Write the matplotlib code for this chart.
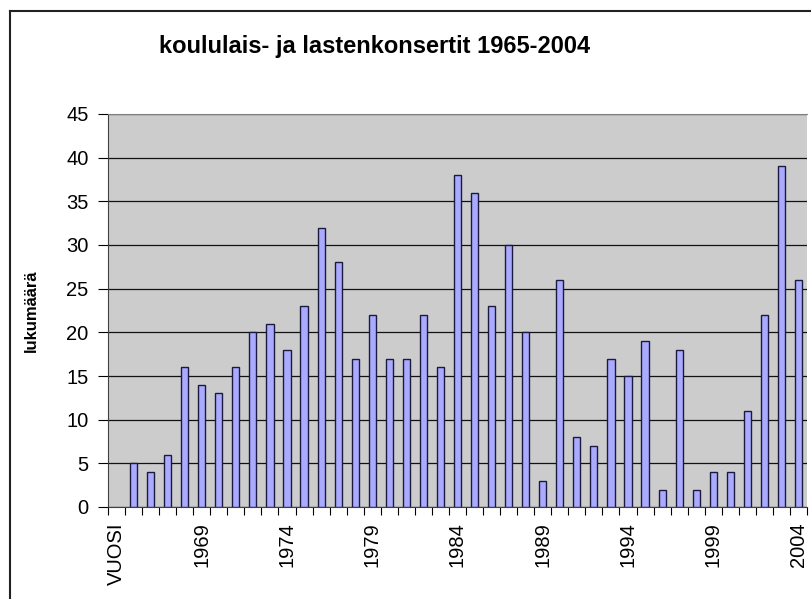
import matplotlib.pyplot as plt
from matplotlib.lines import Line2D

# data
categories = ['VUOSI'] + [str(y) for y in range(1965, 2005)]
counts = [None, 5, 4, 6, 16, 14, 13, 16, 20, 21, 18,
          23, 32, 28, 17, 22, 17, 17, 22, 16, 38,
          36, 23, 30, 20, 3, 26, 8, 7, 17, 15,
          19, 2, 18, 2, 4, 4, 11, 22, 39, 26]
yticks = [0, 5, 10, 15, 20, 25, 30, 35, 40, 45]

plt.rcParams['font.family'] = ['Liberation Sans', 'DejaVu Sans']

fig = plt.figure(figsize=(8.11, 5.99), dpi=100)
ax = fig.add_axes([108/811, 1 - 507/599, (807 - 108)/811, (507 - 114)/599])

xs = [i for i, v in enumerate(counts) if v is not None]
vals = [v for v in counts if v is not None]
ax.bar(xs, vals, width=0.42, color='#aaaaff', edgecolor='#1a1a40', linewidth=1.0, zorder=3)

ax.set_facecolor('#cccccc')
ax.set_xlim(-0.5, len(categories) - 0.5)
ax.set_ylim(0, 45)
ax.set_yticks(yticks)
ax.yaxis.grid(True, color='#111111', linewidth=0.9, zorder=1)
ax.tick_params(axis='y', labelsize=14.5, length=7, direction='out', pad=7)

# ticks between categories, labels every 5th category
ax.set_xticks([i - 0.5 for i in range(len(categories) + 1)])
ax.set_xticklabels([])
ax.set_xticks(list(range(0, len(categories), 5)), minor=True)
ax.set_xticklabels(categories[::5], minor=True, rotation=90)
ax.tick_params(axis='x', which='major', length=6, direction='out')
ax.tick_params(axis='x', which='minor', length=0, labelsize=14.5, pad=11)

ax.spines['top'].set_color('#808080')
ax.spines['right'].set_visible(False)
ax.spines['left'].set_color('#404040')
ax.spines['bottom'].set_color('#404040')

ax.set_ylabel('lukumäärä', fontsize=12, fontweight='bold')
ax.yaxis.set_label_coords(-(108 - 39)/699, 0.5)

fig.text(375/811, 1 - 47/599, 'koululais- ja lastenkonsertit 1965-2004',
         ha='center', va='center', fontsize=17, fontweight='bold')

# chart area border (only top and left visible)
bx, by = 10/811, 1 - 11/599
fig.add_artist(Line2D([bx, 1.0], [by, by], color='#222222', linewidth=1.5))
fig.add_artist(Line2D([bx, bx], [0.0, by], color='#222222', linewidth=1.5))

fig.savefig('out.png', dpi=100)
